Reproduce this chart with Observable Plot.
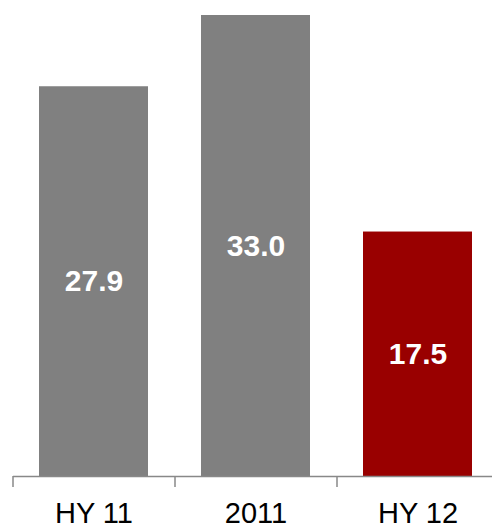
<!DOCTYPE html>
<html>
<head>
<meta charset="utf-8">
<script src="https://cdn.jsdelivr.net/npm/d3@7"></script>
<script src="https://cdn.jsdelivr.net/npm/@observablehq/plot@0.6"></script>
<style>
  html, body { margin: 0; padding: 0; background: #fff; }
  svg { display: block; }
</style>
</head>
<body>
<div id="chart"></div>
<script>
const categories = ["HY 11", "2011", "HY 12"];
const values = [27.9, 33.0, 17.5];
const valueLabels = ["27.9", "33.0", "17.5"];
const barColors = ["#808080", "#808080", "#990000"];

const data = categories.map((c, i) => ({cat: c, value: values[i], label: valueLabels[i], color: barColors[i]}));

const chart = Plot.plot({
  width: 492,
  height: 530,
  marginTop: 15,
  marginBottom: 54,
  marginLeft: 13,
  marginRight: 0,
  style: {fontFamily: "'Liberation Sans', Arial, sans-serif", background: "#fff"},
  x: {domain: categories, range: [13, 499], paddingInner: 0.327, paddingOuter: 0.1635, align: 0.5, label: null},
  y: {domain: [0, 33], axis: null},
  marks: [
    Plot.barY(data, {x: "cat", y: "value", fill: "color"}),
    Plot.text(data, {x: "cat", y: d => d.value / 2, text: "label", fill: "#fff", fontSize: 30, fontWeight: "bold", lineAnchor: "middle"}),
    Plot.ruleY([0], {stroke: "#888", strokeWidth: 1.5}),
    Plot.axisX({tickSize: 11, dx: -81, stroke: "#888", strokeWidth: 1.5, text: null, label: null}),
    Plot.axisX({tickSize: 0, tickPadding: 26, fontSize: 29, fill: "#000", label: null})
  ]
});
document.getElementById("chart").appendChild(chart);
</script>
</body>
</html>
